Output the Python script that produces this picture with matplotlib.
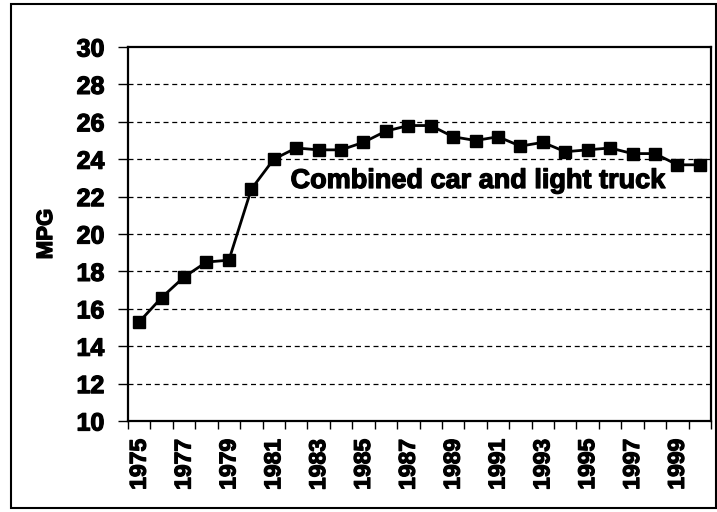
import matplotlib
matplotlib.use('Agg')
import matplotlib.pyplot as plt
import matplotlib.patheffects as pe
from matplotlib.patches import Rectangle

# combined car and light truck fuel economy, model years 1975-2000
years = list(range(1975, 2001))
mpg = [15.3, 16.6, 17.7, 18.5, 18.6, 22.4, 24.0, 24.6, 24.5, 24.5,
       24.9, 25.5, 25.8, 25.8, 25.2, 25.0, 25.2, 24.7, 24.9, 24.4,
       24.5, 24.6, 24.3, 24.3, 23.7, 23.7]
yticks = list(range(10, 31, 2))
label = 'Combined car and light truck'

plt.rcParams['font.family'] = ['Liberation Sans', 'DejaVu Sans']
plt.rcParams['font.weight'] = 'bold'

# the scanned original has very heavy type, thicken it a little
heavy = [pe.withStroke(linewidth=0.9, foreground='black')]

fig = plt.figure(figsize=(7.17, 5.12), dpi=100)
W, H = 717, 512
ax = fig.add_axes([128 / W, 1 - 421 / H, (711 - 128) / W, (421 - 47) / H])

x = list(range(len(years)))
ax.plot(x, mpg, color='black', lw=2.0, marker='s', markersize=8.5,
        markerfacecolor='black', markeredgecolor='black', clip_on=False, zorder=3)

ax.set_xlim(-0.5, len(years) - 0.5)
ax.set_ylim(10, 30)

# category axis: ticks between categories, labels every other year
ax.set_xticks([i - 0.5 for i in range(len(years) + 1)], minor=True)
ax.set_xticks(x[::2])
ax.set_xticklabels([str(y) for y in years[::2]], rotation=90, fontsize=16.5, fontweight='bold')
ax.tick_params(axis='x', which='major', length=0, pad=13)
ax.tick_params(axis='x', which='minor', length=6, width=1, direction='out')

ax.set_yticks(yticks)
ax.set_yticklabels([str(v) for v in yticks], fontsize=18, fontweight='bold')
ax.tick_params(axis='y', length=7, width=1, direction='out', pad=10)

for t in ax.get_xticklabels() + ax.get_yticklabels():
    t.set_path_effects(heavy)

for v in yticks[1:-1]:
    ax.axhline(v, color='black', lw=0.9, ls=(0, (4, 3)), zorder=1)

for s in ax.spines.values():
    s.set_linewidth(1.6)
    s.set_color('black')

ax.set_ylabel('MPG', fontsize=16, fontweight='bold', labelpad=14,
              path_effects=heavy)

ax.text(6.75, 22.46, label, fontsize=19.5, fontweight='bold', va='baseline', ha='left',
        path_effects=heavy)

# outer frame around the whole chart
fig.patches.append(Rectangle((11 / W, 1 - 508 / H), (716 - 11) / W, (508 - 4) / H,
                             transform=fig.transFigure, fill=False,
                             edgecolor='black', lw=1.5))

fig.savefig('out.png', dpi=100)
